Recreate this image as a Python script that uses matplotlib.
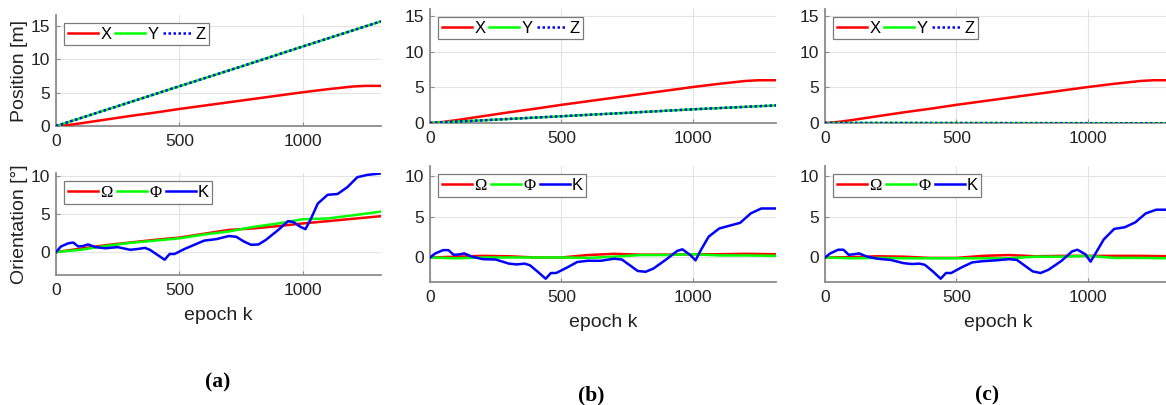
import matplotlib.pyplot as plt

# ---- position data [m] -------------------------------------------------
pos_epoch = [0, 50, 100, 200, 300, 400, 500, 600, 700, 800, 900, 1000, 1100, 1200, 1250, 1316]
pos_x = [0, 0.15, 0.4, 0.95, 1.5, 2.0, 2.55, 3.05, 3.55, 4.05, 4.55, 5.05, 5.5, 5.9, 6.0, 6.0]
pos_yz_epoch = [0, 250, 500, 750, 1000, 1316]
pos_yz_a = [0, 2.97, 5.95, 8.9, 11.9, 15.65]
pos_yz_b = [0, 0.47, 0.95, 1.43, 1.92, 2.47]
pos_yz_c = [0, 0.0, -0.01, -0.02, -0.03, -0.04]

# ---- orientation data [deg] --------------------------------------------
rot_epoch = [0, 100, 200, 300, 400, 500, 600, 700, 800, 900, 1000, 1100, 1200, 1316]
omega_a = [0, 0.45, 0.9, 1.25, 1.6, 1.9, 2.4, 2.9, 3.1, 3.4, 3.75, 4.05, 4.35, 4.7]
phi_a = [0, 0.3, 0.8, 1.2, 1.5, 1.8, 2.3, 2.7, 3.3, 3.75, 4.3, 4.4, 4.8, 5.3]
omega_b = [0, 0.1, 0.2, 0.15, 0.0, 0.0, 0.3, 0.45, 0.35, 0.35, 0.4, 0.4, 0.45, 0.4]
phi_b = [0, -0.1, 0.0, 0.0, 0.0, 0.0, -0.05, 0.1, 0.3, 0.3, 0.4, 0.25, 0.25, 0.2]
omega_c = [0, 0.05, 0.15, 0.1, -0.05, -0.05, 0.2, 0.3, 0.15, 0.2, 0.2, 0.2, 0.2, 0.15]
phi_c = [0, -0.1, -0.05, -0.1, -0.1, -0.1, -0.1, -0.1, 0.1, 0.1, 0.2, -0.05, -0.05, -0.1]

kappa_epoch = [0, 20, 50, 70, 90, 110, 130, 160, 200, 250, 300, 330, 360, 380, 410, 440,
               460, 480, 520, 560, 600, 650, 700, 730, 760, 790, 820, 850, 900, 940, 960,
               990, 1010, 1030, 1060, 1100, 1140, 1180, 1220, 1260, 1316]
kappa_a = [0, 0.73, 1.15, 1.25, 0.73, 0.8, 1.0, 0.65, 0.5, 0.65, 0.3, 0.4, 0.55, 0.3, -0.35, -1.0,
           -0.25, -0.25, 0.4, 0.95, 1.5, 1.7, 2.1, 2.0, 1.4, 0.95, 1.0, 1.6, 2.9, 4.05, 3.95,
           3.3, 3.0, 4.2, 6.35, 7.5, 7.6, 8.5, 9.8, 10.1, 10.3]
kappa_b = [0, 0.5, 0.9, 0.9, 0.33, 0.37, 0.5, 0.1, -0.2, -0.25, -0.75, -0.85, -0.75, -0.95, -1.75, -2.6,
           -1.9, -1.9, -1.25, -0.55, -0.4, -0.4, -0.15, -0.25, -0.95, -1.65, -1.75, -1.35, -0.2, 0.8, 1.0,
           0.3, -0.35, 0.9, 2.55, 3.55, 3.9, 4.25, 5.4, 6.0, 6.0]
kappa_c = [0, 0.5, 0.95, 0.95, 0.33, 0.4, 0.5, 0.1, -0.15, -0.3, -0.7, -0.8, -0.75, -0.9, -1.7, -2.6,
           -1.9, -1.9, -1.2, -0.6, -0.45, -0.35, -0.2, -0.3, -1.0, -1.7, -1.9, -1.5, -0.4, 0.75, 0.95,
           0.4, -0.5, 0.55, 2.2, 3.5, 3.7, 4.3, 5.4, 5.85, 5.85]

pos_ticks_y = [0, 5, 10, 15]
rot_ticks_y = [0, 5, 10]
epoch_ticks = [0, 500, 1000]
sub_labels = ['(a)', '(b)', '(c)']

RED, GREEN, BLUE = '#ff0000', '#00ff00', '#0000ff'
TXT = '#222222'
LW = 1.8

plt.rcParams['font.family'] = ['Liberation Sans', 'DejaVu Sans']
plt.rcParams['font.size'] = 12

W, H = 1166, 405
fig = plt.figure(figsize=(W / 100, H / 100), dpi=100)


def px_axes(left, top, right, bottom):
    return fig.add_axes([left / W, 1 - bottom / H, (right - left) / W, (bottom - top) / H])


def style(ax, yticks, ylim):
    ax.set_xlim(0, 1316)
    ax.set_ylim(*ylim)
    ax.set_xticks(epoch_ticks)
    ax.set_yticks(yticks)
    ax.grid(True, color='#e3e3e3', lw=0.8)
    ax.set_axisbelow(True)
    for s in ('top', 'right'):
        ax.spines[s].set_visible(False)
    for s in ('left', 'bottom'):
        ax.spines[s].set_color('#8c8c8c')
        ax.spines[s].set_linewidth(1.3)
    ax.tick_params(direction='in', length=3, color='#8c8c8c', labelcolor=TXT, labelsize=12.5)
    ax.tick_params(axis='x', pad=6)
    ax.tick_params(axis='y', pad=4)


def legend(ax):
    leg = ax.legend(loc='upper left', ncol=3, frameon=True, fancybox=False,
                    edgecolor='#7a7a7a', framealpha=1, borderpad=0.2, handlelength=1.8,
                    handletextpad=0.15, columnspacing=0.25, borderaxespad=0.5, fontsize=12)
    leg.get_frame().set_linewidth(0.9)
    leg.set_zorder(5)
    for t in leg.get_texts():
        t.set_color('black')
        if t.get_text() in ('Ω', 'Φ'):
            t.set_fontfamily(['Liberation Serif', 'DejaVu Serif'])
    return leg


columns = [
    dict(top=(56, 15, 381, 126), bot=(56, 173, 381, 275), yz=pos_yz_a, om=omega_a, ph=phi_a,
         ka=kappa_a, plim=(0, 16.6), rlim=(-3, 10.35), lab=(218, 382)),
    dict(top=(430, 9, 776, 123), bot=(430, 166, 776, 282), yz=pos_yz_b, om=omega_b, ph=phi_b,
         ka=kappa_b, plim=(0, 16), rlim=(-3, 11.2), lab=(591, 395)),
    dict(top=(825, 9, 1171, 123), bot=(825, 166, 1171, 282), yz=pos_yz_c, om=omega_c, ph=phi_c,
         ka=kappa_c, plim=(0, 16), rlim=(-3, 11.2), lab=(987, 395)),
]

for i, c in enumerate(columns):
    ax1 = px_axes(*c['top'])
    ax1.plot(pos_epoch, pos_x, color=RED, lw=LW, label='X', zorder=3)
    ax1.plot(pos_yz_epoch, c['yz'], color=GREEN, lw=LW, label='Y', zorder=3)
    ax1.plot(pos_yz_epoch, c['yz'], color=BLUE, lw=LW, ls=(0, (1, 1)), label='Z', zorder=3)
    style(ax1, pos_ticks_y, c['plim'])
    legend(ax1)

    ax2 = px_axes(*c['bot'])
    ax2.plot(rot_epoch, c['om'], color=RED, lw=LW, label='Ω', zorder=3)
    ax2.plot(rot_epoch, c['ph'], color=GREEN, lw=LW, label='Φ', zorder=3)
    ax2.plot(kappa_epoch, c['ka'], color=BLUE, lw=LW, label='K', zorder=3)
    style(ax2, rot_ticks_y, c['rlim'])
    legend(ax2)
    ax2.set_xlabel('epoch k', color=TXT, fontsize=14, labelpad=6)

    if i == 0:
        ax1.set_ylabel('Position [m]', color=TXT, fontsize=14, labelpad=2)
        ax2.set_ylabel('Orientation [°]', color=TXT, fontsize=14, labelpad=2)

    lx, ly = c['lab']
    fig.text(lx / W, 1 - ly / H, sub_labels[i], ha='center', va='center',
             fontsize=15.5, fontweight='bold', family=['Liberation Serif', 'DejaVu Serif'])

fig.savefig('out.png', dpi=100)
